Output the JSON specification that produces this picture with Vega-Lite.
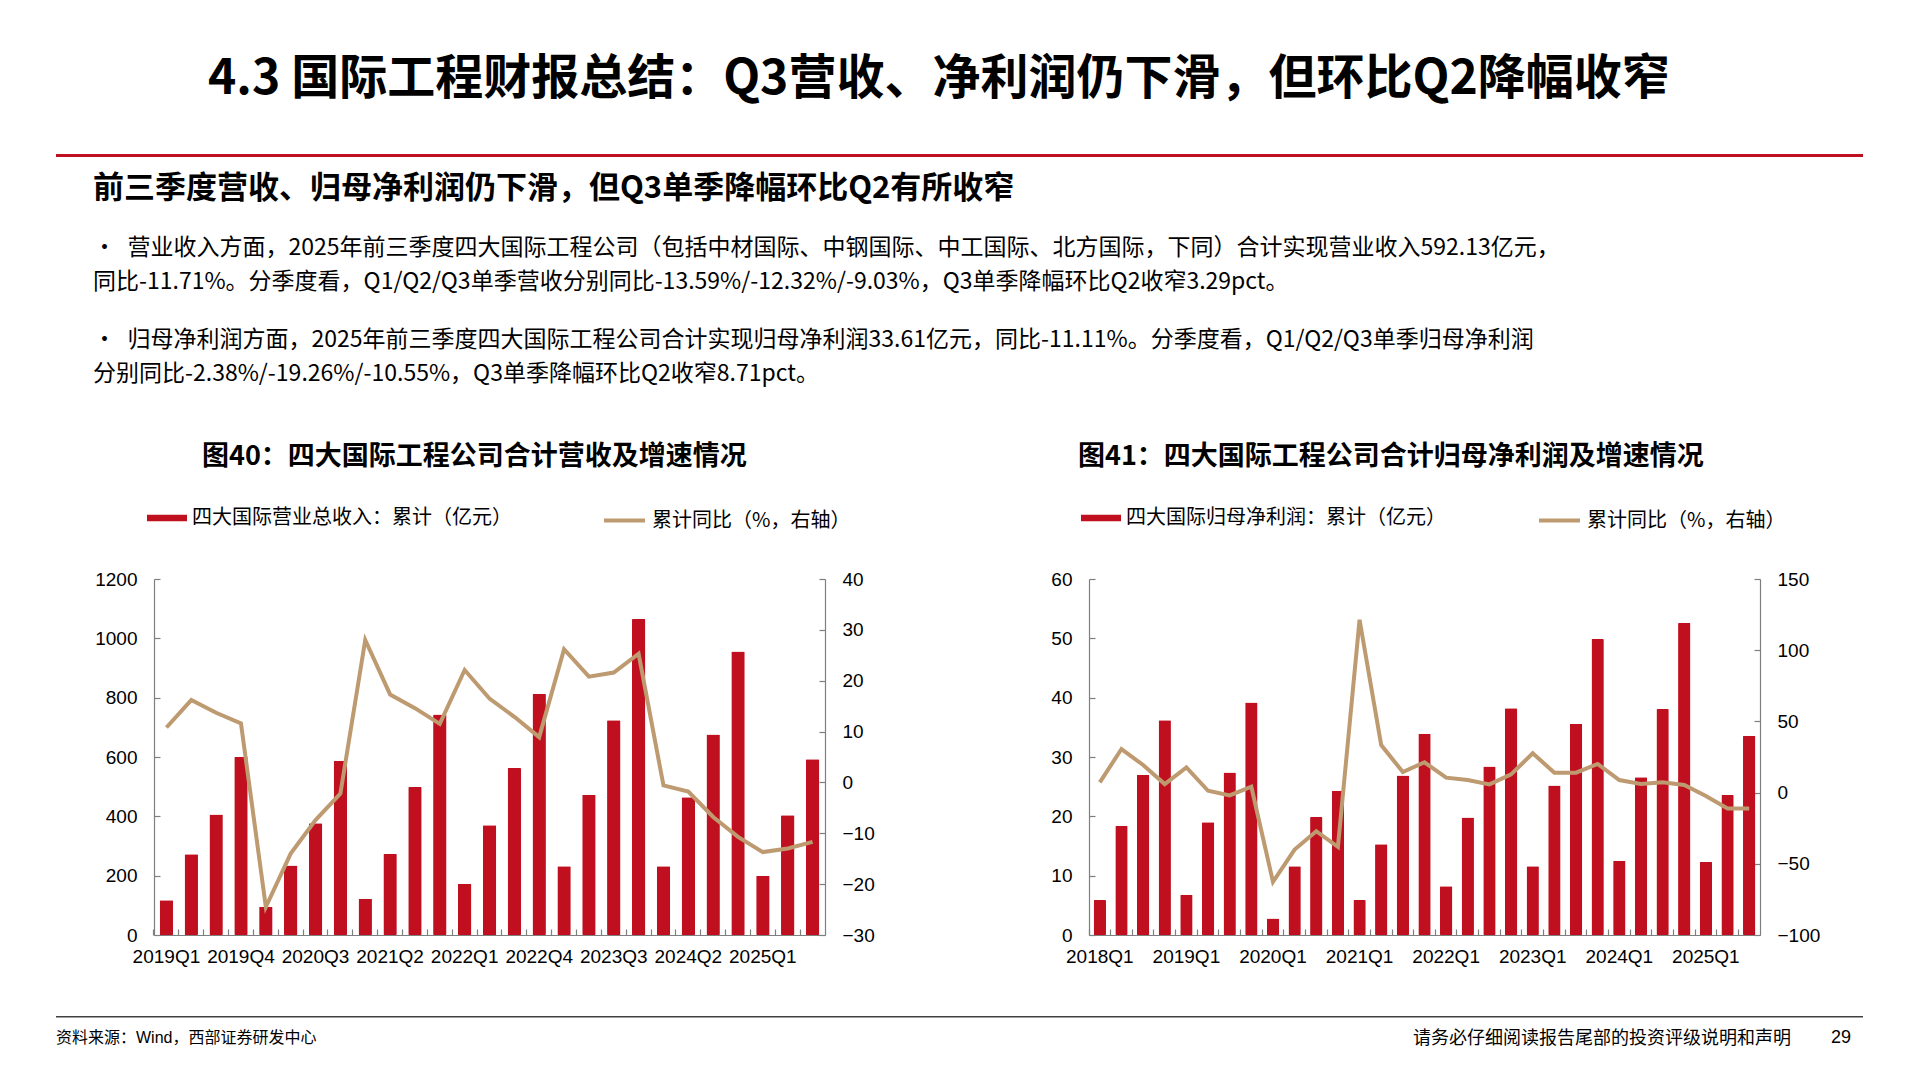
{
  "$schema": "https://vega.github.io/schema/vega-lite/v6.json",
  "background": "white",
  "padding": {"left": 56, "top": 56, "right": 0, "bottom": 0},
  "title": {
    "text": "4.3 国际工程财报总结：Q3营收、净利润仍下滑，但环比Q2降幅收窄",
    "anchor": "start", "frame": "bounds", "dx": 152, "offset": 50,
    "font": "Liberation Sans Narrow, Noto Sans CJK SC", "fontSize": 48, "fontWeight": "bold", "color": "#000000"
  },
  "config": {
    "view": {"stroke": null},
    "axis": {"labelFont": "Liberation Sans", "labelFontSize": 19, "labelColor": "#000000", "domainColor": "#7f7f7f", "tickColor": "#7f7f7f", "domainWidth": 1.2, "tickWidth": 1.2, "grid": false},
    "legend": {"labelFont": "Noto Sans CJK SC", "labelFontSize": 20, "labelColor": "#000000", "labelLimit": 0},
    "title": {"color": "#000000", "subtitleColor": "#000000", "limit": 0}
  },
  "spacing": 0,
  "vconcat": [
    {
      "width": 1807, "height": 3,
      "view": {"fill": "#C00F22", "stroke": null},
      "data": {"values": []},
      "mark": "point",
      "encoding": {},
      "title": {
        "text": "前三季度营收、归母净利润仍下滑，但Q3单季降幅环比Q2有所收窄",
        "orient": "bottom", "anchor": "start", "frame": "group", "dx": 37, "offset": 17,
        "font": "Liberation Sans Narrow, Noto Sans CJK SC", "fontSize": 31, "fontWeight": "bold",
        "subtitle": "•\u2002营业收入方面，2025年前三季度四大国际工程公司（包括中材国际、中钢国际、中工国际、北方国际，下同）合计实现营业收入592.13亿元，",
        "subtitleFont": "Liberation Sans Narrow, Noto Sans CJK SC", "subtitleFontSize": 23, "subtitlePadding": 32, "subtitleFontWeight": "normal"
      }
    },
    {
      "width": 1807, "height": 1,
      "data": {"values": []},
      "mark": "point",
      "encoding": {},
      "title": {
        "text": "　\u2002同比-11.71%。分季度看，Q1/Q2/Q3单季营收分别同比-13.59%/-12.32%/-9.03%，Q3单季降幅环比Q2收窄3.29pct。",
        "orient": "bottom", "anchor": "start", "frame": "group", "dx": 37, "offset": 10,
        "font": "Liberation Sans Narrow, Noto Sans CJK SC", "fontSize": 23, "fontWeight": "normal"
      }
    },
    {
      "width": 1807, "height": 1,
      "data": {"values": []},
      "mark": "point",
      "encoding": {},
      "title": {
        "text": "•\u2002归母净利润方面，2025年前三季度四大国际工程公司合计实现归母净利润33.61亿元，同比-11.11%。分季度看，Q1/Q2/Q3单季归母净利润",
        "orient": "bottom", "anchor": "start", "frame": "group", "dx": 37, "offset": 34,
        "font": "Liberation Sans Narrow, Noto Sans CJK SC", "fontSize": 23, "fontWeight": "normal",
        "subtitle": "　\u2002分别同比-2.38%/-19.26%/-10.55%，Q3单季降幅环比Q2收窄8.71pct。",
        "subtitleFont": "Liberation Sans Narrow, Noto Sans CJK SC", "subtitleFontSize": 23, "subtitlePadding": 11, "subtitleFontWeight": "normal"
      }
    },
    {
      "bounds": "flush",
      "spacing": 0,
      "title": {"text": "　", "orient": "top", "anchor": "start", "frame": "group", "offset": 47, "fontSize": 10, "color": "#ffffff"},
      "hconcat": [
        {
          "width": 98, "height": 1,
          "data": {"values": []},
          "mark": "point",
          "encoding": {}
        },
        {
          "bounds": "flush",
          "spacing": 264,
          "resolve": {"scale": {"fill": "independent", "stroke": "independent"}, "legend": {"fill": "independent", "stroke": "independent"}},
          "hconcat": [
            {
              "width": 671, "height": 356,
              "title": {"text": "图40：四大国际工程公司合计营收及增速情况", "anchor": "start", "frame": "group", "dx": 48, "offset": 27, "font": "Noto Sans CJK SC", "fontSize": 27, "fontWeight": "bold"},
              "data": {"values": [
                {"q": "2019Q1", "rev": 117, "yoy": 10.8},
                {"q": "2019Q2", "rev": 272, "yoy": 16.2},
                {"q": "2019Q3", "rev": 406, "yoy": 13.7},
                {"q": "2019Q4", "rev": 600, "yoy": 11.6},
                {"q": "2020Q1", "rev": 95, "yoy": -24.5},
                {"q": "2020Q2", "rev": 234, "yoy": -14.0},
                {"q": "2020Q3", "rev": 377, "yoy": -7.4},
                {"q": "2020Q4", "rev": 587, "yoy": -2.2},
                {"q": "2021Q1", "rev": 122, "yoy": 28.0},
                {"q": "2021Q2", "rev": 274, "yoy": 17.3},
                {"q": "2021Q3", "rev": 499, "yoy": 14.6},
                {"q": "2021Q4", "rev": 743, "yoy": 11.5},
                {"q": "2022Q1", "rev": 173, "yoy": 22.1},
                {"q": "2022Q2", "rev": 370, "yoy": 16.5},
                {"q": "2022Q3", "rev": 563, "yoy": 12.9},
                {"q": "2022Q4", "rev": 812, "yoy": 8.9},
                {"q": "2023Q1", "rev": 232, "yoy": 26.2},
                {"q": "2023Q2", "rev": 473, "yoy": 20.8},
                {"q": "2023Q3", "rev": 724, "yoy": 21.6},
                {"q": "2023Q4", "rev": 1065, "yoy": 25.3},
                {"q": "2024Q1", "rev": 232, "yoy": -0.6},
                {"q": "2024Q2", "rev": 464, "yoy": -1.8},
                {"q": "2024Q3", "rev": 676, "yoy": -6.8},
                {"q": "2024Q4", "rev": 956, "yoy": -10.7},
                {"q": "2025Q1", "rev": 200, "yoy": -13.7},
                {"q": "2025Q2", "rev": 404, "yoy": -13.0},
                {"q": "2025Q3", "rev": 592, "yoy": -11.7}
              ]},
              "resolve": {"scale": {"y": "independent"}, "axis": {"x": "independent"}},
              "layer": [
                {
                  "mark": {"type": "bar", "cornerRadius": 1},
                  "encoding": {
                    "x": {"field": "q", "type": "ordinal", "sort": null, "scale": {"paddingInner": 0.46, "paddingOuter": 0.23},
                          "axis": {"orient": "bottom", "values": ["2019Q1","2019Q4","2020Q3","2021Q2","2022Q1","2022Q4","2023Q3","2024Q2","2025Q1"], "ticks": false, "labelAngle": 0, "labelPadding": 12, "labelOverlap": false,
                                   "title": "　", "titleY": 71, "titleBaseline": "top", "titleFontSize": 10, "titleColor": "#ffffff"}},
                    "y": {"field": "rev", "type": "quantitative", "scale": {"domain": [0, 1200]},
                          "axis": {"orient": "left", "values": [0,200,400,600,800,1000,1200], "format": "d", "tickSize": -6, "labelPadding": 23, "title": null}},
                    "fill": {"datum": "四大国际营业总收入：累计（亿元）", "scale": {"range": ["#C0101F"]},
                             "legend": {"orient": "none", "legendX": -7, "legendY": -81, "title": null, "direction": "horizontal", "symbolType": "M-1,-0.1625H1V0.1625H-1Z", "symbolSize": 1600, "symbolStrokeWidth": 0, "labelOffset": 5}}
                  }
                },
                {
                  "mark": {"type": "line", "strokeWidth": 4},
                  "encoding": {
                    "x": {"field": "q", "type": "ordinal", "sort": null,
                          "axis": {"orient": "bottom", "labels": false, "domain": false, "tickSize": -6, "bandPosition": -0.426, "title": null}},
                    "y": {"field": "yoy", "type": "quantitative", "scale": {"domain": [-30, 40]},
                          "axis": {"orient": "right", "values": [-30,-20,-10,0,10,20,30,40], "tickSize": -6, "labelPadding": 23, "title": null}},
                    "stroke": {"datum": "累计同比（%，右轴）", "scale": {"range": ["#BE9A70"]},
                               "legend": {"orient": "none", "legendX": 448, "legendY": -81, "title": null, "direction": "horizontal", "symbolType": "stroke", "symbolSize": 1681, "symbolStrokeWidth": 4, "labelOffset": 5}}
                  }
                }
              ]
            },
            {
              "width": 671, "height": 356,
              "title": {"text": "图41：四大国际工程公司合计归母净利润及增速情况", "anchor": "start", "frame": "group", "dx": -11, "offset": 27, "font": "Noto Sans CJK SC", "fontSize": 27, "fontWeight": "bold"},
              "data": {"values": [
                {"q": "2018Q1", "np": 5.9, "yoy": 7.2},
                {"q": "2018Q2", "np": 18.4, "yoy": 30.6},
                {"q": "2018Q3", "np": 27.0, "yoy": 19.4},
                {"q": "2018Q4", "np": 36.2, "yoy": 6.0},
                {"q": "2019Q1", "np": 6.8, "yoy": 17.7},
                {"q": "2019Q2", "np": 19.0, "yoy": 1.3},
                {"q": "2019Q3", "np": 27.4, "yoy": -2.0},
                {"q": "2019Q4", "np": 39.2, "yoy": 4.1},
                {"q": "2020Q1", "np": 2.8, "yoy": -62.7},
                {"q": "2020Q2", "np": 11.6, "yoy": -40.0},
                {"q": "2020Q3", "np": 19.9, "yoy": -27.1},
                {"q": "2020Q4", "np": 24.3, "yoy": -38.1},
                {"q": "2021Q1", "np": 5.9, "yoy": 121.4},
                {"q": "2021Q2", "np": 15.3, "yoy": 33.4},
                {"q": "2021Q3", "np": 26.9, "yoy": 14.4},
                {"q": "2021Q4", "np": 33.9, "yoy": 21.3},
                {"q": "2022Q1", "np": 8.2, "yoy": 10.5},
                {"q": "2022Q2", "np": 19.8, "yoy": 8.8},
                {"q": "2022Q3", "np": 28.4, "yoy": 5.8},
                {"q": "2022Q4", "np": 38.2, "yoy": 12.8},
                {"q": "2023Q1", "np": 11.6, "yoy": 27.6},
                {"q": "2023Q2", "np": 25.2, "yoy": 14.0},
                {"q": "2023Q3", "np": 35.6, "yoy": 14.0},
                {"q": "2023Q4", "np": 49.9, "yoy": 20.1},
                {"q": "2024Q1", "np": 12.5, "yoy": 8.8},
                {"q": "2024Q2", "np": 26.6, "yoy": 6.0},
                {"q": "2024Q3", "np": 38.1, "yoy": 7.2},
                {"q": "2024Q4", "np": 52.6, "yoy": 5.3},
                {"q": "2025Q1", "np": 12.3, "yoy": -2.4},
                {"q": "2025Q2", "np": 23.6, "yoy": -11.1},
                {"q": "2025Q3", "np": 33.6, "yoy": -11.1}
              ]},
              "resolve": {"scale": {"y": "independent"}, "axis": {"x": "independent"}},
              "layer": [
                {
                  "mark": {"type": "bar", "cornerRadius": 1},
                  "encoding": {
                    "x": {"field": "q", "type": "ordinal", "sort": null, "scale": {"paddingInner": 0.43, "paddingOuter": 0.215},
                          "axis": {"orient": "bottom", "values": ["2018Q1","2019Q1","2020Q1","2021Q1","2022Q1","2023Q1","2024Q1","2025Q1"], "ticks": false, "labelAngle": 0, "labelPadding": 12, "labelOverlap": false, "title": null}},
                    "y": {"field": "np", "type": "quantitative", "scale": {"domain": [0, 60]},
                          "axis": {"orient": "left", "values": [0,10,20,30,40,50,60], "tickSize": -6, "labelPadding": 23, "title": null}},
                    "fill": {"datum": "四大国际归母净利润：累计（亿元）", "scale": {"range": ["#C0101F"]},
                             "legend": {"orient": "none", "legendX": -8, "legendY": -81, "title": null, "direction": "horizontal", "symbolType": "M-1,-0.1625H1V0.1625H-1Z", "symbolSize": 1600, "symbolStrokeWidth": 0, "labelOffset": 5}}
                  }
                },
                {
                  "mark": {"type": "line", "strokeWidth": 4},
                  "encoding": {
                    "x": {"field": "q", "type": "ordinal", "sort": null,
                          "axis": {"orient": "bottom", "labels": false, "domain": false, "tickSize": -6, "bandPosition": -0.377, "title": null}},
                    "y": {"field": "yoy", "type": "quantitative", "scale": {"domain": [-100, 150]},
                          "axis": {"orient": "right", "values": [-100,-50,0,50,100,150], "tickSize": -6, "labelPadding": 23, "title": null}},
                    "stroke": {"datum": "累计同比（%，右轴）", "scale": {"range": ["#BE9A70"]},
                               "legend": {"orient": "none", "legendX": 448, "legendY": -81, "title": null, "direction": "horizontal", "symbolType": "stroke", "symbolSize": 1681, "symbolStrokeWidth": 4, "labelOffset": 5}}
                  }
                }
              ]
            }
          ]
        }
      ]
    },
    {
      "bounds": "flush",
      "spacing": 0,
      "hconcat": [
        {
          "width": 1000, "height": 1.5,
          "view": {"fill": "#404040", "stroke": null},
          "data": {"values": []},
          "mark": "point",
          "encoding": {},
          "title": {"text": "资料来源：Wind，西部证券研发中心", "orient": "bottom", "anchor": "start", "frame": "group", "offset": 12, "font": "Liberation Sans, Noto Sans CJK SC", "fontSize": 16, "fontWeight": "normal"}
        },
        {
          "width": 740, "height": 1.5,
          "view": {"fill": "#404040", "stroke": null},
          "data": {"values": []},
          "mark": "point",
          "encoding": {},
          "title": {"text": "请务必仔细阅读报告尾部的投资评级说明和声明", "orient": "bottom", "anchor": "end", "frame": "group", "dx": -5, "offset": 12, "font": "Noto Sans CJK SC", "fontSize": 18, "fontWeight": "normal"}
        },
        {
          "width": 67, "height": 1.5,
          "view": {"fill": "#404040", "stroke": null},
          "data": {"values": []},
          "mark": "point",
          "encoding": {},
          "title": {"text": "29", "orient": "bottom", "anchor": "end", "frame": "group", "dx": -12, "offset": 11, "font": "Liberation Sans", "fontSize": 18, "fontWeight": "normal"}
        }
      ]
    }
  ]
}
